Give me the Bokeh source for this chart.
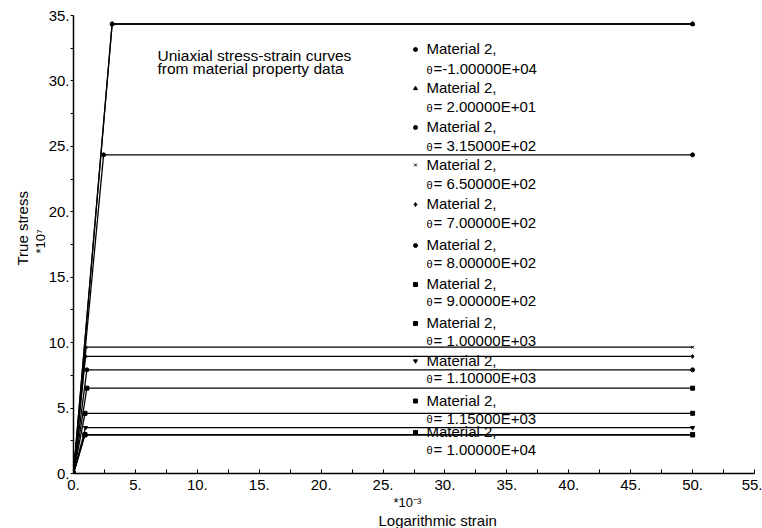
from bokeh.plotting import figure
from bokeh.models import Label, PrintfTickFormatter, Range1d, FixedTicker, Title
from bokeh.embed import file_html
from bokeh.resources import INLINE

# ---------------- data ----------------
theta_labels = ["-1.00000E+04", " 2.00000E+01", " 3.15000E+02", " 6.50000E+02",
                " 7.00000E+02", " 8.00000E+02", " 9.00000E+02", " 1.00000E+03",
                " 1.10000E+03", " 1.15000E+03", " 1.00000E+04"]
# yield point of each curve (strain *1e-3, stress *1e7)
yield_strain = [3.12, 3.12, 2.43, 1.02, 0.97, 1.08, 1.08, 0.93, 0.97, 0.92, 0.92]
yield_stress = [34.35, 34.35, 24.35, 9.65, 8.95, 7.92, 6.52, 4.60, 3.50, 2.96, 2.96]
start_strain = [0.0] * 11
start_stress = [0.0] * 11
end_strain = [50.0] * 11
series_markers = ["circle", "triangle", "circle", "x", "diamond", "circle",
                  "square", "square", "inverted_triangle", "square", "square"]
x_ticks = [0, 5, 10, 15, 20, 25, 30, 35, 40, 45, 50, 55]
x_minor = [2.5, 7.5, 12.5, 17.5, 22.5, 27.5, 32.5, 37.5, 42.5, 47.5, 52.5]
y_ticks = [0, 5, 10, 15, 20, 25, 30, 35]
y_minor = [2.5, 7.5, 12.5, 17.5, 22.5, 27.5, 32.5]

FONT = "Liberation Sans"
W, H = 762, 528
FX0, FY0 = 73.0, 473.0
KX = 681.0 / 55.0
KY = 458.0 / 35.0


def dx(px):
    return (px - FX0) / KX


def dy(py):
    return (FY0 - py) / KY


p = figure(width=W, height=H, output_backend="svg", toolbar_location=None,
           title=None, x_range=Range1d(0, 55), y_range=Range1d(0, 35),
           min_border_left=73, min_border_right=8, min_border_top=15,
           min_border_bottom=55)
p.outline_line_color = None
p.xgrid.visible = False
p.ygrid.visible = False
p.background_fill_color = "white"
p.border_fill_color = "white"

# curves
for i in range(len(theta_labels)):
    xs = [start_strain[i], yield_strain[i], end_strain[i]]
    ys = [start_stress[i], yield_stress[i], yield_stress[i]]
    p.line(xs, ys, line_color="black", line_width=1.3)
    p.scatter(xs, ys, marker=series_markers[i], size=4,
              line_color="black", fill_color="black")

# axes
xa = p.xaxis[0]
xa.ticker = FixedTicker(ticks=x_ticks, minor_ticks=x_minor)
xa.formatter = PrintfTickFormatter(format="%d.")
xa.major_tick_in = 4
xa.major_tick_out = 0
xa.minor_tick_in = 4
xa.minor_tick_out = 0
xa.major_label_standoff = 6
xa.axis_line_width = 1.5
xa.major_label_text_font = FONT
xa.major_label_text_font_size = "15px"
xa.major_label_text_color = "black"

ya = p.yaxis[0]
ya.ticker = FixedTicker(ticks=y_ticks, minor_ticks=y_minor)
ya.formatter = PrintfTickFormatter(format="%d.")
ya.major_tick_in = 0
ya.major_tick_out = 3
ya.minor_tick_in = 0
ya.minor_tick_out = 3
ya.major_label_standoff = 1
ya.axis_line_width = 1.5
ya.major_label_text_font = FONT
ya.major_label_text_font_size = "15px"
ya.major_label_text_color = "black"


def side_title(text, where, offset, size="15px", standoff=0):
    p.add_layout(Title(text=text, align="left", offset=offset, standoff=standoff,
                       text_font=FONT, text_font_size=size,
                       text_font_style="normal", text_color="black"), where)


# axis titles (side panels, outside the frame)
side_title("*10\u207b\u00b3", "below", 393 - FX0, size="13px")
side_title("Logarithmic strain", "below", 378 - FX0)
side_title("*10\u2077", "left", FY0 - 253, size="13px", standoff=-4)
side_title("True stress", "left", FY0 - 265, standoff=4)


def add_label(px, py, text, size="15px", align="left"):
    # screen units are measured from the frame's bottom-left corner
    p.add_layout(Label(x=px - FX0, y=FY0 - py, x_units="screen", y_units="screen",
                       text=text, text_font=FONT,
                       text_font_size=size, text_align=align,
                       text_baseline="middle", text_color="black"))


# annotation
add_label(157, 55, "Uniaxial stress-strain curves", size="15.5px")
add_label(157, 68, "from material property data", size="15.5px")

# legend
mat_y = [48, 87, 126, 163.5, 203, 244, 283, 322, 359.5, 399.5, 431]
theta_y = [68, 106, 145, 183, 222, 262, 300, 339.5, 377, 417.5, 448.5]
for i in range(len(theta_labels)):
    p.scatter([dx(415)], [dy(mat_y[i] + 1)], marker=series_markers[i], size=4,
              line_color="black", fill_color="black")
    add_label(426, mat_y[i], "Material 2,")
    add_label(426, theta_y[i] + 1, "\u03b8", size="11px")
    add_label(433, theta_y[i], "=" + theta_labels[i])

open("out.html", "w").write(file_html(p, INLINE))
